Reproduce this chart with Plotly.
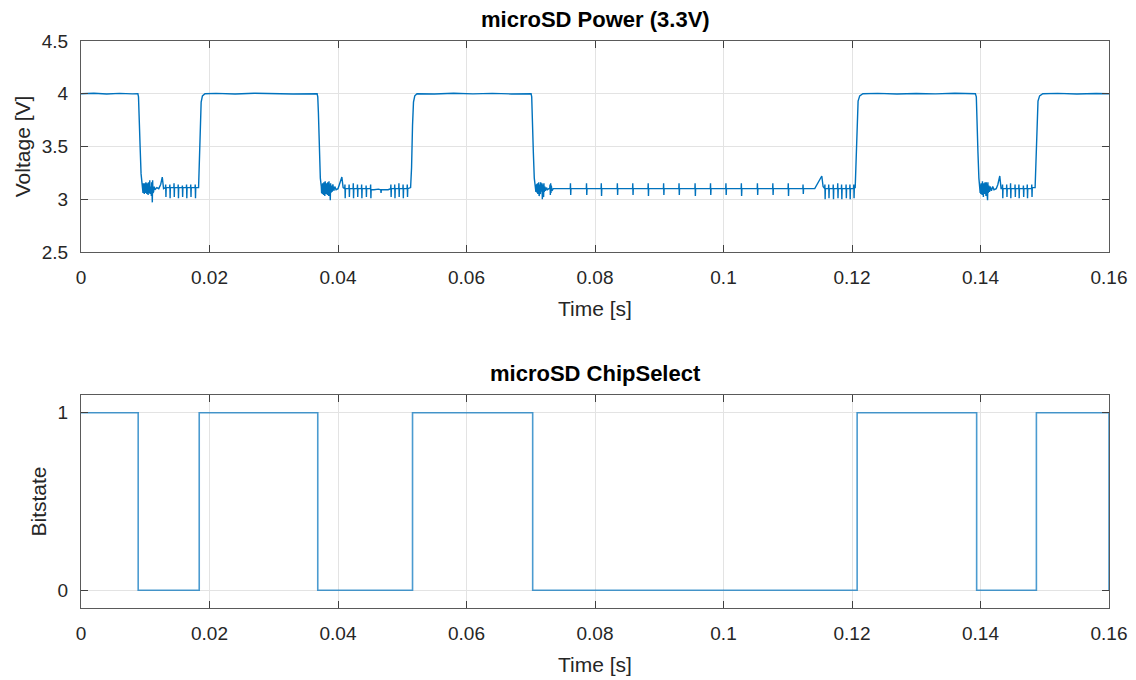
import plotly.graph_objects as go

# ---------------- data (time in ms, voltage in V) ----------------
high0 = [(0.0, 4.000), (2.0, 4.004), (4.0, 3.998), (6.0, 4.003), (8.0, 3.999), (8.85, 4.000)]

low1 = [(8.95, 3.97), (9.05, 3.84), (9.2, 3.50), (9.35, 3.24), (9.5, 3.13), (9.6, 3.11),
        (9.65, 3.06), (9.7, 3.15), (9.75, 3.07), (9.8, 3.14), (9.85, 3.05), (9.9, 3.15),
        (9.95, 3.08), (10.0, 3.13), (10.05, 3.06), (10.1, 3.16), (10.15, 3.07), (10.2, 3.14),
        (10.25, 3.05), (10.3, 3.15), (10.35, 3.08), (10.4, 3.12), (10.45, 3.04), (10.5, 3.16),
        (10.55, 3.07), (10.6, 3.15), (10.65, 3.06), (10.7, 3.18), (10.75, 3.05), (10.8, 3.14),
        (10.85, 3.07), (10.9, 3.12), (10.95, 3.03), (11.0, 3.16), (11.05, 3.05), (11.1, 2.97),
        (11.15, 3.18), (11.2, 3.06), (11.25, 3.13), (11.3, 3.07), (11.4, 3.12), (11.5, 3.09),
        (11.8, 3.11), (12.1, 3.10), (12.4, 3.14), (12.65, 3.21), (12.85, 3.10), (13.05, 3.11),
        (13.15, 3.11), (13.18, 3.14), (13.22, 3.02), (13.26, 3.11),
        (13.8, 3.11), (13.83, 3.14), (13.87, 3.01), (13.91, 3.11),
        (14.45, 3.11), (14.48, 3.15), (14.52, 3.02), (14.56, 3.11),
        (15.1, 3.11), (15.13, 3.14), (15.17, 3.01), (15.21, 3.11),
        (15.75, 3.11), (15.78, 3.13), (15.82, 3.02), (15.86, 3.11),
        (16.4, 3.11), (16.43, 3.14), (16.47, 3.01), (16.51, 3.11),
        (17.05, 3.11), (17.08, 3.14), (17.12, 3.02), (17.16, 3.11),
        (17.75, 3.11), (17.78, 3.14), (17.82, 3.01), (17.86, 3.11),
        (18.3, 3.11), (18.4, 3.30), (18.55, 3.70), (18.7, 3.92), (18.9, 3.98), (19.3, 4.00)]

high1 = [(21.0, 4.003), (24.0, 3.998), (27.0, 4.004), (30.0, 4.000), (33.0, 3.997), (36.75, 4.000)]

low2 = [(36.85, 3.97), (36.95, 3.82), (37.1, 3.45), (37.25, 3.20), (37.4, 3.12),
        (37.45, 3.06), (37.5, 3.14), (37.55, 3.05), (37.6, 3.15), (37.65, 3.07), (37.7, 3.13),
        (37.75, 3.04), (37.8, 3.16), (37.85, 3.06), (37.9, 3.12), (37.95, 3.03), (38.0, 3.17),
        (38.05, 3.07), (38.1, 3.14), (38.15, 3.05), (38.2, 3.15), (38.25, 3.06), (38.3, 3.13),
        (38.35, 3.04), (38.4, 3.16), (38.45, 3.07), (38.5, 3.14), (38.55, 3.03), (38.6, 3.17),
        (38.65, 3.06), (38.7, 3.14), (38.8, 2.99), (38.85, 3.15), (38.9, 3.06), (39.0, 3.13),
        (39.1, 3.07), (39.2, 3.14), (39.35, 3.08), (39.5, 3.12), (39.7, 3.09),
        (40.0, 3.10), (40.3, 3.15), (40.6, 3.21), (40.8, 3.11), (40.95, 3.10),
        (41.05, 3.10), (41.08, 3.14), (41.12, 3.01), (41.16, 3.10),
        (41.7, 3.10), (41.73, 3.14), (41.77, 3.02), (41.81, 3.10),
        (42.35, 3.10), (42.38, 3.15), (42.42, 3.01), (42.46, 3.10),
        (43.0, 3.10), (43.03, 3.14), (43.07, 3.02), (43.11, 3.10),
        (43.65, 3.10), (43.68, 3.14), (43.72, 3.01), (43.76, 3.10),
        (44.35, 3.10), (44.38, 3.13), (44.42, 3.02), (44.46, 3.10),
        (45.05, 3.10), (45.08, 3.14), (45.12, 3.01), (45.16, 3.09),
        (45.6, 3.09), (46.3, 3.095), (46.65, 3.09), (46.7, 3.06), (46.75, 3.09), (47.8, 3.09),
        (48.2, 3.10), (48.23, 3.14), (48.27, 3.02), (48.31, 3.10),
        (48.8, 3.10), (48.83, 3.14), (48.87, 3.01), (48.91, 3.10),
        (49.45, 3.10), (49.48, 3.15), (49.52, 3.02), (49.56, 3.10),
        (50.1, 3.10), (50.13, 3.14), (50.17, 3.01), (50.21, 3.10),
        (50.75, 3.10), (50.78, 3.14), (50.82, 3.02), (50.86, 3.10),
        (51.3, 3.11), (51.45, 3.30), (51.6, 3.70), (51.75, 3.92), (51.95, 3.98), (52.3, 4.00)]

high2 = [(55.0, 3.998), (58.0, 4.004), (61.0, 3.999), (64.0, 4.003), (67.0, 3.998), (70.05, 4.000)]

low3 = [(70.15, 3.97), (70.25, 3.82), (70.4, 3.45), (70.55, 3.20), (70.7, 3.12),
        (70.8, 3.07), (70.85, 3.13), (70.9, 3.08), (70.95, 3.14), (71.0, 3.06), (71.05, 3.15),
        (71.1, 3.05), (71.15, 3.14), (71.2, 3.07), (71.25, 3.16), (71.3, 3.03), (71.35, 3.15),
        (71.4, 3.06), (71.45, 3.14), (71.5, 3.05), (71.55, 3.16), (71.6, 3.07), (71.65, 3.13),
        (71.7, 3.02), (71.75, 3.15), (71.8, 3.00), (71.85, 3.14), (71.9, 3.06), (71.95, 3.13),
        (72.0, 3.02), (72.05, 3.15), (72.1, 3.07), (72.2, 3.12), (72.3, 3.08), (72.45, 3.11),
        (72.6, 3.09), (72.8, 3.10), (72.95, 3.10), (73.0, 3.14), (73.05, 3.04), (73.1, 3.15),
        (73.15, 3.06), (73.2, 3.13), (73.3, 3.08), (73.5, 3.10), (73.9, 3.10),
        (76.15, 3.10), (76.18, 3.15), (76.22, 3.04), (76.26, 3.10),
        (78.65, 3.10), (78.68, 3.15), (78.72, 3.04), (78.76, 3.10),
        (80.95, 3.10), (80.98, 3.15), (81.02, 3.03), (81.06, 3.10),
        (83.45, 3.10), (83.48, 3.15), (83.52, 3.04), (83.56, 3.10),
        (85.85, 3.10), (85.88, 3.15), (85.92, 3.04), (85.96, 3.10),
        (88.25, 3.10), (88.28, 3.15), (88.32, 3.03), (88.36, 3.10),
        (90.65, 3.10), (90.68, 3.15), (90.72, 3.04), (90.76, 3.10),
        (93.05, 3.10), (93.08, 3.15), (93.12, 3.04), (93.16, 3.10),
        (95.55, 3.10), (95.58, 3.15), (95.62, 3.03), (95.66, 3.10),
        (97.95, 3.10), (97.98, 3.15), (98.02, 3.04), (98.06, 3.10),
        (100.35, 3.10), (100.38, 3.15), (100.42, 3.04), (100.46, 3.10),
        (102.75, 3.10), (102.78, 3.15), (102.82, 3.03), (102.86, 3.10),
        (105.25, 3.10), (105.28, 3.15), (105.32, 3.04), (105.36, 3.10),
        (107.65, 3.10), (107.68, 3.15), (107.72, 3.04), (107.76, 3.10),
        (110.05, 3.10), (110.08, 3.15), (110.12, 3.03), (110.16, 3.10),
        (112.35, 3.10), (112.38, 3.14), (112.42, 3.05), (112.46, 3.10),
        (114.2, 3.10), (114.8, 3.16), (115.3, 3.22), (115.5, 3.12), (115.65, 3.10),
        (115.75, 3.10), (115.78, 3.14), (115.82, 3.00), (115.86, 3.10),
        (116.35, 3.10), (116.38, 3.14), (116.42, 3.01), (116.46, 3.10),
        (117.05, 3.10), (117.08, 3.14), (117.12, 3.00), (117.16, 3.10),
        (117.75, 3.10), (117.78, 3.15), (117.82, 3.01), (117.86, 3.10),
        (118.35, 3.10), (118.38, 3.14), (118.42, 3.00), (118.46, 3.10),
        (119.05, 3.10), (119.08, 3.14), (119.12, 3.01), (119.16, 3.10),
        (119.65, 3.10), (119.68, 3.14), (119.72, 3.00), (119.76, 3.10),
        (120.25, 3.10), (120.28, 3.14), (120.32, 3.01), (120.36, 3.11),
        (120.5, 3.11), (120.65, 3.35), (120.8, 3.75), (120.95, 3.93), (121.2, 3.98), (121.7, 4.00)]

high3 = [(124.0, 4.003), (127.0, 3.998), (130.0, 4.002), (133.0, 3.999), (136.0, 4.004), (139.2, 4.000)]

low4 = [(139.35, 3.97), (139.45, 3.82), (139.6, 3.45), (139.75, 3.20), (139.9, 3.12),
        (139.95, 3.06), (140.0, 3.14), (140.05, 3.05), (140.1, 3.15), (140.15, 3.07), (140.2, 3.13),
        (140.25, 3.04), (140.3, 3.17), (140.35, 3.06), (140.4, 3.12), (140.45, 3.02), (140.5, 3.15),
        (140.55, 3.07), (140.6, 3.14), (140.65, 3.05), (140.7, 3.16), (140.75, 3.06), (140.8, 3.13),
        (140.85, 3.03), (140.9, 3.16), (140.95, 3.07), (141.0, 3.14), (141.1, 2.99), (141.15, 3.16),
        (141.2, 3.06), (141.3, 3.13), (141.4, 3.07), (141.5, 3.12), (141.7, 3.08), (141.9, 3.12),
        (142.1, 3.09), (142.45, 3.10),
        (142.7, 3.14), (143.0, 3.22), (143.2, 3.10),
        (143.4, 3.10), (143.43, 3.14), (143.47, 3.01), (143.51, 3.10),
        (144.05, 3.10), (144.08, 3.14), (144.12, 3.02), (144.16, 3.10),
        (144.65, 3.10), (144.68, 3.15), (144.72, 3.01), (144.76, 3.10),
        (145.35, 3.10), (145.38, 3.14), (145.42, 3.02), (145.46, 3.10),
        (145.95, 3.10), (145.98, 3.14), (146.02, 3.01), (146.06, 3.10),
        (146.65, 3.10), (146.68, 3.13), (146.72, 3.02), (146.76, 3.10),
        (147.25, 3.10), (147.28, 3.14), (147.32, 3.01), (147.36, 3.10),
        (147.95, 3.10), (147.98, 3.14), (148.02, 3.02), (148.06, 3.11),
        (148.5, 3.11), (148.65, 3.35), (148.8, 3.75), (148.95, 3.93), (149.2, 3.98), (149.7, 4.00)]

high4 = [(152.0, 4.003), (155.0, 3.998), (158.0, 4.002), (160.0, 4.000)]

# ChipSelect edges (ms) and state after each edge
cs_edges_ms = [0.0, 8.9, 18.4, 36.85, 51.6, 70.3, 120.8, 139.4, 148.7, 160.0]
cs_state = [1, 0, 1, 0, 1, 0, 1, 0, 1, 0]

x_tickvals = [0, 0.02, 0.04, 0.06, 0.08, 0.10, 0.12, 0.14, 0.16]
x_ticktext = ["0", "0.02", "0.04", "0.06", "0.08", "0.1", "0.12", "0.14", "0.16"]
v_tickvals = [2.5, 3.0, 3.5, 4.0, 4.5]
v_ticktext = ["2.5", "3", "3.5", "4", "4.5"]
b_tickvals = [0, 1]
b_ticktext = ["0", "1"]

# ---------------- figure ----------------
power = high0 + low1 + high1 + low2 + high2 + low3 + high3 + low4 + high4
pt = [p[0] / 1000.0 for p in power]
pv = [p[1] for p in power]
cst = [t / 1000.0 for t in cs_edges_ms]

BLUE = "#0072BD"
FONT = "Liberation Sans, Arial, Helvetica, sans-serif"
AX = "#262626"

fig = go.Figure()
fig.add_trace(go.Scatter(x=pt, y=pv, mode="lines", line=dict(color=BLUE, width=1.4),
                         xaxis="x", yaxis="y", showlegend=False, hoverinfo="skip"))
fig.add_trace(go.Scatter(x=cst, y=cs_state, mode="lines", line=dict(color=BLUE, width=1.6, shape="hv"),
                         opacity=0.7, xaxis="x2", yaxis="y2", showlegend=False, hoverinfo="skip"))

def xax(anchor):
    return dict(range=[0, 0.16], tickvals=x_tickvals, ticktext=x_ticktext, anchor=anchor,
                automargin=False,
                showgrid=True, gridcolor="#e3e3e3", gridwidth=1, zeroline=False,
                showline=True, linecolor="#5a5a5a", linewidth=1, mirror="allticks",
                ticks="inside", ticklen=7, tickcolor="#404040", tickwidth=1,
                tickfont=dict(family=FONT, size=19, color=AX), ticklabelstandoff=8,
                title=dict(text="Time [s]", font=dict(family=FONT, size=21, color=AX), standoff=14))

def yax(anchor, rng, tv, tt, title, dom):
    return dict(range=rng, tickvals=tv, ticktext=tt, anchor=anchor, domain=dom,
                automargin=False,
                showgrid=True, gridcolor="#e3e3e3", gridwidth=1, zeroline=False,
                showline=True, linecolor="#5a5a5a", linewidth=1, mirror="allticks",
                ticks="inside", ticklen=7, tickcolor="#404040", tickwidth=1,
                tickfont=dict(family=FONT, size=19, color=AX), ticklabelstandoff=8,
                title=dict(text=title, font=dict(family=FONT, size=21, color=AX), standoff=5))

fig.update_layout(
    width=1136, height=680,
    margin=dict(l=81, r=27, t=41, b=72),
    paper_bgcolor="white", plot_bgcolor="white",
    xaxis=xax("y"),
    yaxis=yax("x", [2.5, 4.5], v_tickvals, v_ticktext, "Voltage [V]", [0.628, 1.0]),
    xaxis2=xax("y2"),
    yaxis2=yax("x2", [-0.1, 1.1], b_tickvals, b_ticktext, "Bitstate", [0.0, 0.3757]),
    annotations=[
        dict(text="<b>microSD Power (3.3V)</b>", xref="paper", yref="paper", x=0.5, y=1.0,
             yshift=7, xanchor="center", yanchor="bottom", showarrow=False,
             font=dict(family=FONT, size=22, color="black")),
        dict(text="<b>microSD ChipSelect</b>", xref="paper", yref="paper", x=0.5, y=0.3757,
             yshift=7, xanchor="center", yanchor="bottom", showarrow=False,
             font=dict(family=FONT, size=22, color="black")),
    ],
)

fig.write_html("out.html", config={"displayModeBar": False},
               post_script="document.body.style.margin='0';")
